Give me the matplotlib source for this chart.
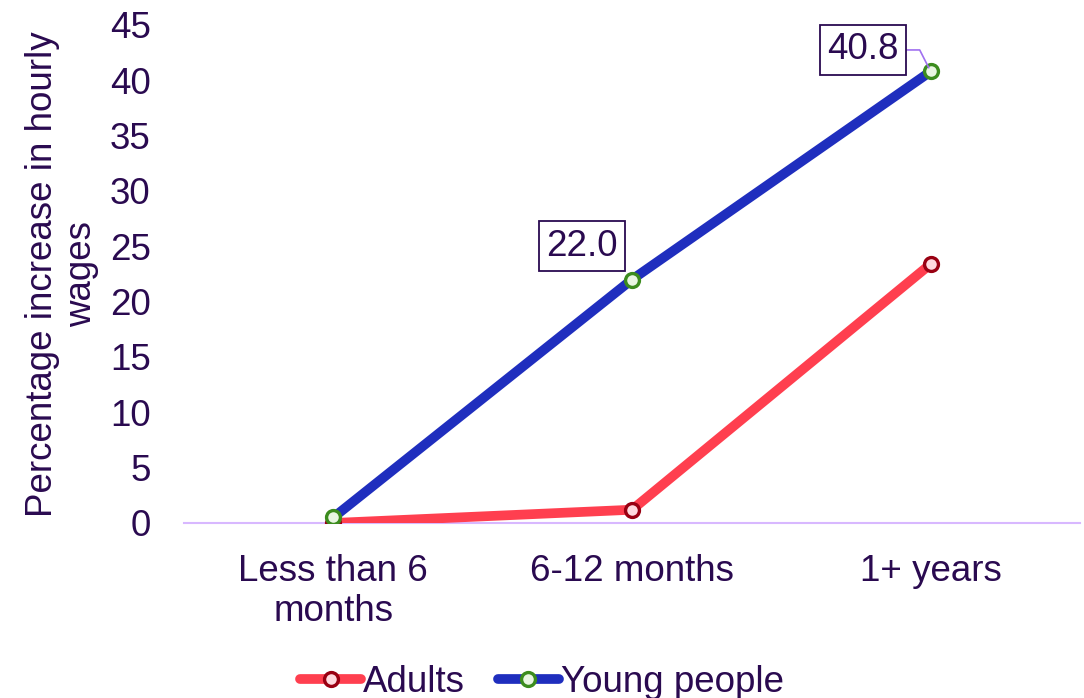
import matplotlib
matplotlib.use("Agg")
import matplotlib.pyplot as plt

categories = ["Less than 6\nmonths", "6-12 months", "1+ years"]
adults = [0.0, 1.2, 23.4]
young = [0.5, 22.0, 40.8]
yticks = [0, 5, 10, 15, 20, 25, 30, 35, 40, 45]

TXT = "#2A0A50"
FS = 26.5
plt.rcParams['font.family'] = ['Liberation Sans', 'DejaVu Sans']

fig = plt.figure(figsize=(10.84, 6.98), dpi=100)
ax = fig.add_axes([184/1084, 175/698, 896/1084, 498/698])
x = list(range(len(categories)))

ax.plot(x, adults, color="#FF3F4F", lw=7, solid_capstyle="round", zorder=3,
        marker="o", ms=10, mec="#990012", mfc="#FFD9DE", mew=2.4, label="Adults")
ax.plot(x, young, color="#1F2EBE", lw=7, solid_capstyle="round", zorder=4,
        marker="o", ms=10, mec="#3C8C1E", mfc="#E9F6E2", mew=2.4, label="Young people")

ax.set_xlim(-0.5, 2.5)
ax.set_ylim(0, 45)
ax.set_yticks(yticks)
ax.set_xticks(x)
ax.set_xticklabels(categories)
for s in ["top", "right", "left"]:
    ax.spines[s].set_visible(False)
ax.spines["bottom"].set_color("#D8B8FF")
ax.spines["bottom"].set_linewidth(1.5)
ax.tick_params(axis="both", length=0, labelsize=FS, labelcolor=TXT)
ax.tick_params(axis="x", pad=22)
ax.tick_params(axis="y", pad=24)
ax.set_ylabel("Percentage increase in hourly\nwages", fontsize=FS, color=TXT, labelpad=8,
              linespacing=1.15)

box = dict(boxstyle="square,pad=0.2", fc="white", ec=TXT, lw=1.3)
ax.annotate(f"{young[1]:.1f}", xy=(1, young[1]), xytext=(-36, 24), textcoords="offset points",
            fontsize=FS, color=TXT, ha="center", va="center", bbox=box, zorder=6)
ax.annotate(f"{young[2]:.1f}", xy=(2, young[2]), xytext=(-48.6, 15.5), textcoords="offset points",
            fontsize=FS, color=TXT, ha="center", va="center", bbox=box, zorder=6,
            arrowprops=dict(arrowstyle="-", color="#A070F0", lw=1.2,
                            connectionstyle="angle,angleA=0,angleB=117,rad=0",
                            shrinkA=0, shrinkB=3))

leg = fig.legend(loc="lower center", bbox_to_anchor=(0.5, -0.05), ncol=2, frameon=False,
                 fontsize=FS, handlelength=1.65, handletextpad=0.05, columnspacing=0.9)
for t in leg.get_texts():
    t.set_color(TXT)

fig.savefig("out.png", dpi=100)
